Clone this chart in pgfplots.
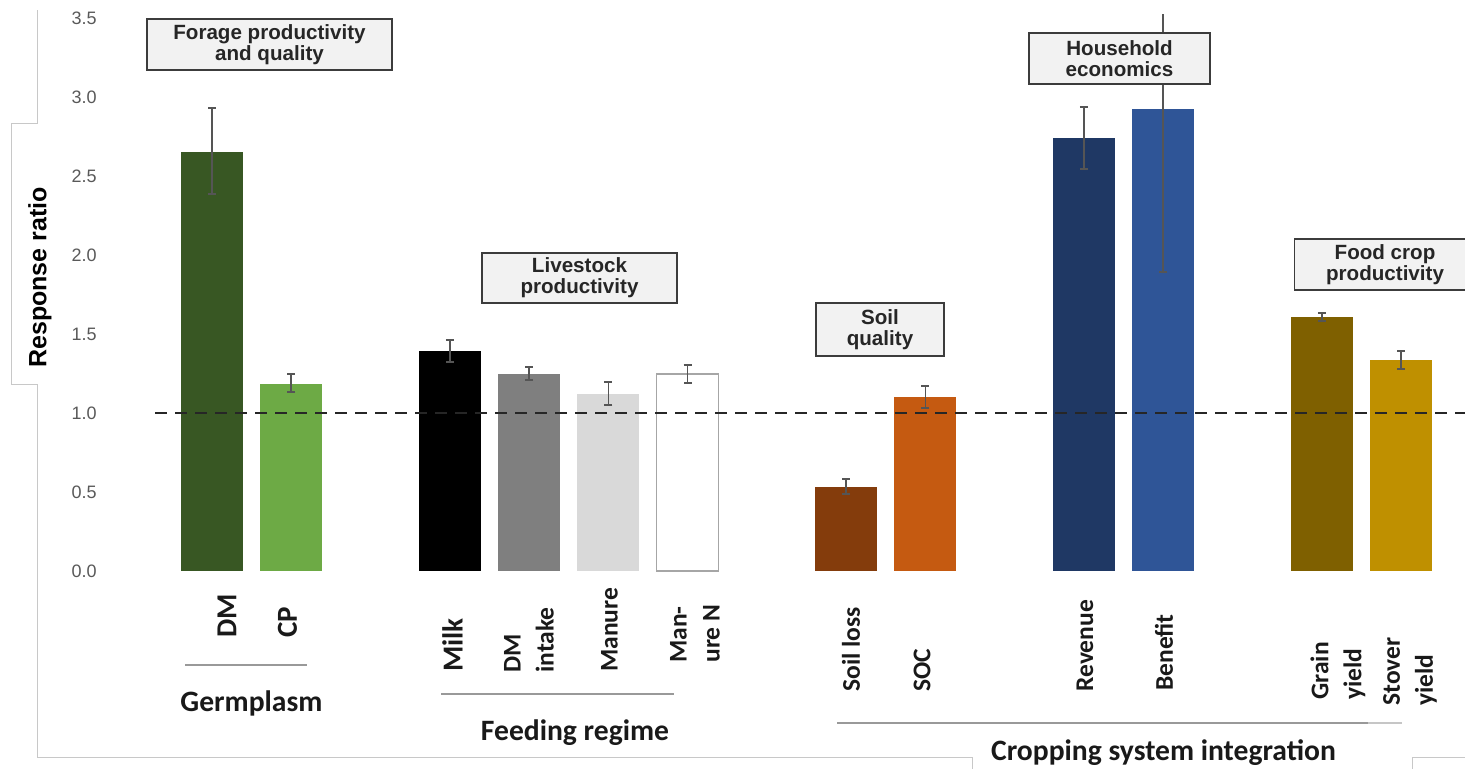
\documentclass[border=0pt]{standalone}
\usepackage{fontspec}
\setmainfont{Carlito}
\newfontfamily\arial{Liberation Sans}
\usepackage{pgfplots}
\pgfplotsset{compat=1.18}
\definecolor{cDM}{HTML}{385723}
\definecolor{cCP}{HTML}{6DAA45}
\definecolor{cMilk}{HTML}{000000}
\definecolor{cDMI}{HTML}{7F7F7F}
\definecolor{cMan}{HTML}{D9D9D9}
\definecolor{cManN}{HTML}{FFFFFF}
\definecolor{cSL}{HTML}{843C0C}
\definecolor{cSOC}{HTML}{C55A11}
\definecolor{cRev}{HTML}{1F3864}
\definecolor{cBen}{HTML}{2F5597}
\definecolor{cGr}{HTML}{7F6000}
\definecolor{cSt}{HTML}{BF9000}
\definecolor{errgray}{HTML}{555555}
\definecolor{tickgray}{HTML}{595959}
\definecolor{framec}{HTML}{C8C8C8}
\definecolor{boxfill}{HTML}{F2F2F2}
\definecolor{boxline}{HTML}{3C3C3C}
\pgfplotsset{
  mybar/.style={ybar, bar width=31pt, bar shift=0pt,
    error bars/.cd, y dir=both, y explicit,
    error bar style={line width=0.8pt, color=errgray},
    error mark options={rotate=90, mark size=2pt, line width=0.8pt, color=errgray}}
}
\begin{document}
\begin{tikzpicture}
\begin{axis}[
  x=39.635pt, y=79pt,
  xmin=-1.4507, xmax=15.807, ymin=0, ymax=3.52,
  axis lines=left, axis line style={draw=none},
  major tick length=0pt, tick style={draw=none},
  xtick=\empty,
  ytick={0,0.5,1,1.5,2,2.5,3,3.5},
  yticklabel style={font=\arial\fontsize{9}{10}\selectfont, text=tickgray, anchor=east, inner sep=0pt},
  /pgf/number format/.cd, fixed, fixed zerofill, precision=1, assume math mode=true,
  /pgfplots/.cd,
  clip=true,
]
\addplot[fill=cDM, draw=none, mybar] coordinates {(0,2.652) += (0,0.278) -= (0,0.266)};
\addplot[fill=cCP, draw=none, mybar] coordinates {(1,1.184) += (0,0.063) -= (0,0.051)};
\addplot[fill=cMilk, draw=none, mybar] coordinates {(3,1.392) += (0,0.070) -= (0,0.069)};
\addplot[fill=cDMI, draw=none, mybar] coordinates {(4,1.247) += (0,0.044) -= (0,0.038)};
\addplot[fill=cMan, draw=none, mybar] coordinates {(5,1.120) += (0,0.076) -= (0,0.069)};
\addplot[fill=cManN, draw=gray!70, line width=0.6pt, mybar] coordinates {(6,1.247) += (0,0.057) -= (0,0.057)};
\addplot[fill=cSL, draw=none, mybar] coordinates {(8,0.532) += (0,0.050) -= (0,0.045)};
\addplot[fill=cSOC, draw=none, mybar] coordinates {(9,1.101) += (0,0.070) -= (0,0.069)};
\addplot[fill=cRev, draw=none, mybar] coordinates {(11,2.741) += (0,0.196) -= (0,0.197)};
\addplot[fill=cBen, draw=none, mybar] coordinates {(12,2.924) += (0,0.800) -= (0,1.032)};
\addplot[fill=cGr, draw=none, mybar] coordinates {(14,1.608) += (0,0.025) -= (0,0.026)};
\addplot[fill=cSt, draw=none, mybar] coordinates {(15,1.335) += (0,0.057) -= (0,0.057)};
\addplot[color=black!85, line width=1.3pt, dash pattern=on 6pt off 4pt] coordinates {(-0.719,1) (15.807,1)};
\coordinate (O) at (axis cs:-2.6744,3.6139);
\end{axis}
\begin{scope}[shift={(O)}, x=0.5pt, y=-0.5pt]
  % frame lines
  \draw[framec, line width=0.5pt] (38,10) -- (38,123) -- (12,123) -- (12,384) -- (38,384) -- (38,757) -- (972,757) -- (972,770);
  \draw[framec, line width=0.5pt] (1412,770) -- (1412,757) -- (1470,757);
  % group separator lines
  \draw[gray!80, line width=0.7pt] (185,665) -- (307,665);
  \draw[gray!80, line width=0.7pt] (441,694) -- (674,694);
  \draw[gray!80, line width=0.8pt] (837,723) -- (1368,723);
  \draw[gray!45, line width=0.7pt] (1368,723) -- (1402,723);
  % y label
  \node[rotate=90, font=\arial\bfseries\fontsize{12.5}{14}\selectfont, text=black] at (40,277.5) {Response ratio};
  % category labels
  \tikzset{xl/.style={rotate=90, anchor=west, inner sep=0pt, align=left, text=black!90}}
  \def\xb{\bfseries\fontsize{14.5}{17}\selectfont}
  \def\xr{\bfseries\fontsize{12.75}{16.5}\selectfont}
  \node[xl, font=\xb] at (227,638) {DM};
  \node[xl, font=\xb] at (287.5,638) {CP};
  \node[xl, font=\xb] at (452.5,672) {Milk};
  \node[xl, font=\xr] at (529,673) {DM\\intake};
  \node[xl, font=\xr] at (609.5,672) {Manure};
  \node[xl, font=\xr] at (695,663) {Man-\\ure N};
  \node[xl, font=\xr] at (851,692) {Soil loss};
  \node[xl, font=\xr] at (922,692) {SOC};
  \node[xl, font=\xr] at (1085,692) {Revenue};
  \node[xl, font=\xr] at (1164,691) {Benefit};
  \node[xl, font=\xr] at (1338,700) {Grain\\yield};
  \node[xl, font=\xr] at (1410,706) {Stover\\yield};
  % group labels
  \def\gb{\bfseries\fontsize{14.8}{17}\selectfont}
  \node[font=\gb, text=black!90] at (251.5,703) {Germplasm};
  \node[font=\gb, text=black!90] at (575,733) {Feeding regime};
  \node[font=\gb, text=black!90] at (1163.5,753) {Cropping system integration};
  % title boxes
  \tikzset{tb/.style={draw=boxline, fill=boxfill, line width=0.75pt}}
  \tikzset{tt/.style={align=center, font=\arial\bfseries\fontsize{10.3}{10.4}\selectfont, text=black!85}}
  \draw[tb] (147,19) rectangle (392,70);
  \node[tt] at (269.5,44.5) {Forage productivity\\and quality};
  \draw[tb] (482,253) rectangle (677,303);
  \node[tt] at (579.5,278) {Livestock\\productivity};
  \draw[tb] (816,303) rectangle (944,356);
  \node[tt] at (880,329.5) {Soil\\quality};
  \draw[tb] (1029,33) rectangle (1210,84);
  \node[tt] at (1119.5,58.5) {Household\\economics};
  \draw[tb] (1294.5,239) rectangle (1476,290);
  \node[tt] at (1385,264.5) {Food crop\\productivity};
\end{scope}
\pgfresetboundingbox
\path[use as bounding box] (O) rectangle ++(732.5pt,-384pt);
\end{tikzpicture}
\end{document}
